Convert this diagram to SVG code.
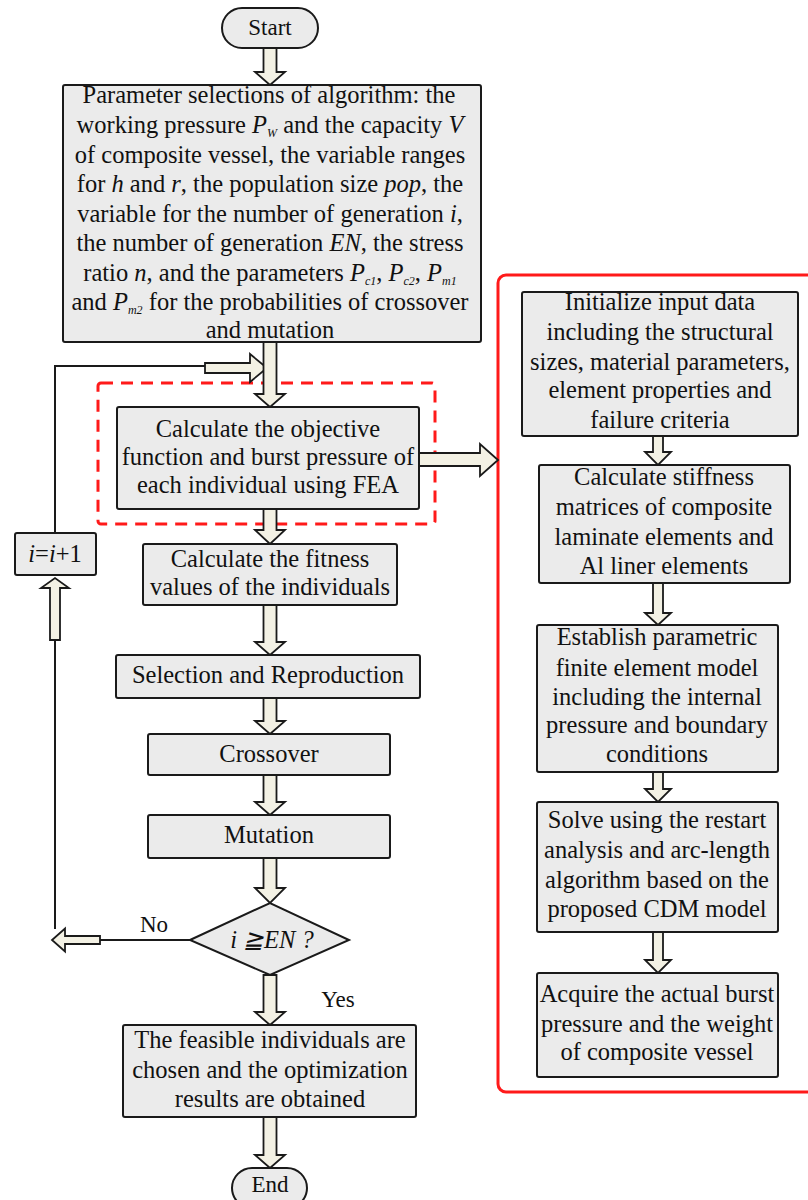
<svg xmlns="http://www.w3.org/2000/svg" width="808" height="1200" viewBox="0 0 808 1200">
<style>
.box{fill:#ebebeb;stroke:#1a1a1a;stroke-width:2}
.arr{fill:#f3f1e4;stroke:#1a1a1a;stroke-width:1.8;stroke-linejoin:miter}
.ln{fill:none;stroke:#1a1a1a;stroke-width:2}
text{font-family:"Liberation Serif","Times New Roman",serif;font-size:24.5px;fill:#111;text-anchor:middle}
.sm{font-size:23px}
.it{font-style:italic}
.sub{font-style:italic;font-size:12px}
</style>
<rect width="808" height="1200" fill="#fff"/>

<g id="fea-frame">
<rect x="498" y="275" width="322" height="817" rx="8" fill="none" stroke="#ff1a1a" stroke-width="3"/>
</g>
<g id="fea-highlight">
<rect x="98" y="383" width="337" height="141" rx="3" fill="none" stroke="#ff1a1a" stroke-width="3" stroke-dasharray="12 8"/>
</g>

<g id="connectors">
<path class="ln" d="M55,533 V366 H205"/>
<path class="ln" d="M55,640 V929"/>
<path class="ln" d="M190,940 H100"/>
<!-- loop arrows -->
<path class="arr" d="M205,363 H250 V354 L267,368 L250,382 V373 H205 Z"/>
<path class="arr" d="M50,640 V588 H41 L55,578 L69,588 H60 V640 Z"/>
<path class="arr" d="M100,936 H65 V928.5 L52,940 L65,951.5 V944 H100 Z"/>
<!-- main column arrows -->
<path class="arr" d="M263.5,48 V72 H255 L270,85 L285,72 H276.5 V48 Z"/>
<path class="arr" d="M263.5,342 V394 H255 L270,407 L285,394 H276.5 V342 Z"/>
<path class="arr" d="M263.5,509 V530 H255 L270,544 L285,530 H276.5 V509 Z"/>
<path class="arr" d="M263.5,605 V642 H255 L270,655 L285,642 H276.5 V605 Z"/>
<path class="arr" d="M263.5,698 V721 H255 L270,734 L285,721 H276.5 V698 Z"/>
<path class="arr" d="M263.5,775 V802 H255 L270,815 L285,802 H276.5 V775 Z"/>
<path class="arr" d="M263.5,858 V888 H255 L270,903 L285,888 H276.5 V858 Z"/>
<path class="arr" d="M263.5,975 V1012 H255 L270,1025 L285,1012 H276.5 V975 Z"/>
<path class="arr" d="M263.5,1117 V1155 H255 L270,1168 L285,1155 H276.5 V1117 Z"/>
<!-- to FEA frame -->
<path class="arr" d="M419,453 H480 V444 L498,460 L480,476 V466 H419 Z"/>
<!-- right column arrows -->
<path class="arr" d="M653,436 V452 H645 L658,465 L671,452 H663 V436 Z"/>
<path class="arr" d="M653,583 V613 H645 L658,625 L671,613 H663 V583 Z"/>
<path class="arr" d="M653,772 V789 H645 L658,802 L671,789 H663 V772 Z"/>
<path class="arr" d="M653,932 V960 H645 L658,973 L671,960 H663 V932 Z"/>
</g>

<g id="start">
<rect class="box" x="222" y="8" width="96" height="40" rx="20"/>
<text class="sm" x="270" y="35">Start</text>
</g>

<g id="params">
<rect class="box" x="63" y="85" width="418" height="257" rx="2"/>
<text x="269" y="103">Parameter selections of algorithm:  the</text>
<text x="270" y="133">working pressure <tspan class="it">P</tspan><tspan class="sub" dy="4">W</tspan><tspan dy="-4"> and the capacity </tspan><tspan class="it">V</tspan></text>
<text x="270" y="163">of composite vessel, the variable ranges</text>
<text x="270" y="192">for <tspan class="it">h</tspan> and <tspan class="it">r</tspan>, the population size <tspan class="it">pop</tspan>,  the</text>
<text x="270" y="222">variable for the number of generation <tspan class="it">i</tspan>,</text>
<text x="270" y="251">the number of  generation <tspan class="it">EN</tspan>, the stress</text>
<text x="270" y="281">ratio <tspan class="it">n</tspan>, and the parameters <tspan class="it">P</tspan><tspan class="sub" dy="4">c1</tspan><tspan dy="-4">, </tspan><tspan class="it">P</tspan><tspan class="sub" dy="4">c2</tspan><tspan dy="-4">, </tspan><tspan class="it">P</tspan><tspan class="sub" dy="4">m1</tspan></text>
<text x="270" y="310">and <tspan class="it">P</tspan><tspan class="sub" dy="4">m2</tspan><tspan dy="-4"> for the probabilities of crossover</tspan></text>
<text x="270" y="338">and mutation</text>
</g>

<g id="objective">
<rect class="box" x="117" y="407" width="302" height="102" rx="2"/>
<text x="268" y="437">Calculate  the objective</text>
<text x="268" y="465">function and burst pressure of</text>
<text x="268" y="493">each individual using FEA</text>
</g>

<g id="fitness">
<rect class="box" x="143" y="544" width="254" height="61" rx="2"/>
<text x="270" y="567">Calculate  the fitness</text>
<text x="270" y="595">values of the individuals</text>
</g>

<g id="selection">
<rect class="box" x="116" y="655" width="304" height="43" rx="2"/>
<text x="268" y="683">Selection and Reproduction</text>
</g>

<g id="crossover">
<rect class="box" x="148" y="734" width="242" height="41" rx="2"/>
<text x="269" y="762">Crossover</text>
</g>

<g id="mutation">
<rect class="box" x="148" y="815" width="242" height="43" rx="2"/>
<text x="269" y="843">Mutation</text>
</g>

<g id="decision">
<path class="box" d="M190,940 L270,903 L349,940 L270,975 Z"/>
<text class="it" x="272" y="948">i ≧EN ?</text>
</g>

<g id="increment">
<rect class="box" x="15" y="533" width="81" height="42" rx="2"/>
<text x="55" y="562"><tspan class="it">i</tspan>=<tspan class="it">i</tspan>+1</text>
</g>

<g id="labels">
<text class="sm" x="154" y="932">No</text>
<text class="sm" x="338" y="1007">Yes</text>
</g>

<g id="result">
<rect class="box" x="123" y="1025" width="293" height="92" rx="2"/>
<text x="270" y="1048">The feasible individuals  are</text>
<text x="270" y="1078">chosen  and the optimization</text>
<text x="270" y="1107">results are obtained</text>
</g>

<g id="end">
<rect class="box" x="232" y="1168" width="75" height="40" rx="20"/>
<text class="sm" x="270" y="1192">End</text>
</g>

<g id="init">
<rect class="box" x="522" y="292" width="276" height="144" rx="2"/>
<text x="660" y="310">Initialize input data</text>
<text x="660" y="340">including the structural</text>
<text x="660" y="370">sizes, material parameters,</text>
<text x="660" y="398">element properties and</text>
<text x="660" y="428">failure criteria</text>
</g>

<g id="stiffness">
<rect class="box" x="539" y="465" width="251" height="118" rx="2"/>
<text x="664" y="485">Calculate stiffness</text>
<text x="664" y="515">matrices of composite</text>
<text x="664" y="545">laminate elements and</text>
<text x="664" y="574">Al liner elements</text>
</g>

<g id="model">
<rect class="box" x="537" y="625" width="241" height="147" rx="2"/>
<text x="657" y="645">Establish parametric</text>
<text x="657" y="676">finite element model</text>
<text x="657" y="705">including the internal</text>
<text x="657" y="733">pressure and boundary</text>
<text x="657" y="762">conditions</text>
</g>

<g id="solve">
<rect class="box" x="537" y="802" width="241" height="130" rx="2"/>
<text x="657" y="828">Solve using the restart</text>
<text x="657" y="858">analysis and arc-length</text>
<text x="657" y="888">algorithm based on the</text>
<text x="657" y="917">proposed CDM model</text>
</g>

<g id="acquire">
<rect class="box" x="537" y="973" width="241" height="104" rx="2"/>
<text x="657" y="1002">Acquire the actual burst</text>
<text x="657" y="1032">pressure and the weight</text>
<text x="657" y="1060">of composite vessel</text>
</g>
</svg>
